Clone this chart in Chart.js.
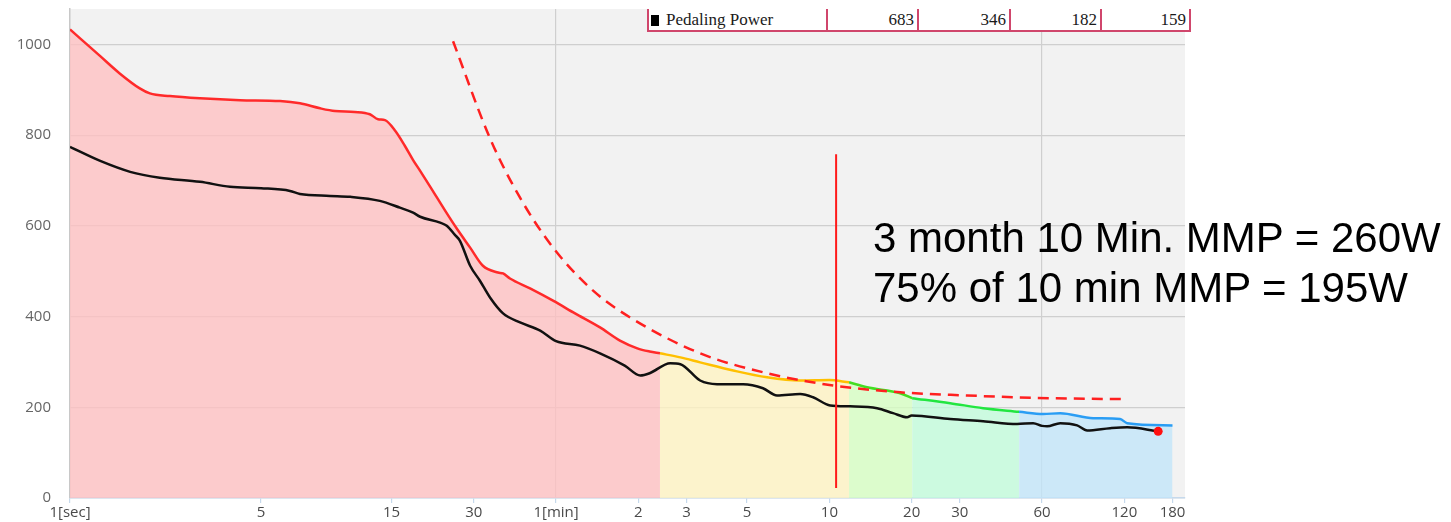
<!DOCTYPE html>
<html>
<head>
<meta charset="utf-8">
<script src="https://cdn.jsdelivr.net/npm/chart.js"></script>
<style>
  body { margin: 0; background: #fff; }
  #wrap { position: relative; width: 1451px; height: 522px; }
  #mmpTable {
    position: absolute; left: 647px; top: 9px; height: 21px;
    border: 2px solid #d0466c; border-top: none; background: #fff;
    display: flex; font: 17px "Liberation Serif", serif; color: #1a1a1a;
  }
  #mmpTable div { box-sizing: border-box; line-height: 21px; }
  #mmpTable .name { width: 179px; padding-left: 2px; border-right: 2px solid #d0466c; }
  #mmpTable .num { text-align: right; padding-right: 3px; border-right: 2px solid #d0466c; }
  #mmpTable .num:last-child { border-right: none; }
  #mmpTable .sq { display: inline-block; width: 8px; height: 11px; background: #000; margin-right: 7px; vertical-align: -1px; }
  #note {
    position: absolute; left: 873px; top: 213px;
    font: 42px "Liberation Sans", Arial, sans-serif; line-height: 50px; color: #000;
    white-space: nowrap;
  }
</style>
</head>
<body>
<div id="wrap">
  <canvas id="mmpChart" width="1451" height="522"></canvas>
  <div id="mmpTable"></div>
  <div id="note"></div>
</div>
<script>
// duration in seconds, power in watts

// best power curve (upper envelope)
const envSec = [1, 1.29, 1.52, 1.8, 1.96, 2.32, 2.99, 4.19, 5.87, 6.94, 8.22, 9.32, 11, 12.5, 13.4, 14.2,
  15.5, 16.8, 18, 19.1, 20.8, 23.6, 26, 29.1, 32.4, 36.8, 38.4, 40.7, 48.2, 58.5, 70.4, 86.9, 102.8, 119, 132,
  144, 171, 202, 267, 355, 469, 600, 708, 824, 1089, 1205, 1660, 2191, 2966, 3631, 4194, 5534, 6950, 7372, 10800];
const envW = [1033, 974, 936, 903, 892, 886, 881, 877, 875, 870, 859, 853, 851, 846, 835, 833,
  809, 776, 745, 721, 686, 633, 594, 552, 512, 497, 495, 484, 462, 435, 407, 376, 347, 330, 323,
  319, 310, 299, 281, 266, 259, 260, 255, 244, 231, 220, 209, 198, 190, 185, 187, 176, 174, 165, 160];

// pedaling power curve
const blackSec = [1, 1.29, 1.66, 2.13, 2.99, 3.85, 5, 6.38, 6.94, 8.94, 10.6, 13.6, 16.1, 18, 19.1, 22.6,
  23.9, 25.6, 26.7, 29.1, 31.6, 34.4, 38.4, 44.3, 52.5, 60, 73.4, 86.9, 107, 122, 132, 157, 171, 202, 233,
  290, 343, 386, 469, 523, 604, 714, 897, 1026, 1155, 1200, 1660, 2191, 2917, 3339, 3600, 3757, 4194, 4837,
  5262, 6388, 7372, 9572];
const blackW = [774, 743, 719, 706, 697, 686, 683, 677, 670, 666, 664, 655, 640, 629, 620, 607,
  600, 580, 567, 512, 479, 442, 407, 387, 369, 346, 336, 319, 292, 270, 275, 297, 295, 259, 251,
  251, 242, 226, 229, 222, 204, 202, 198, 187, 178, 182, 174, 169, 163, 165, 159, 158, 165, 160,
  149, 154, 156, 147];

// dashed model curve
const cpSec = [25.2, 34.4, 44.3, 58.5, 82, 112, 202, 355, 619, 1089, 1915, 3853, 7372];
const cpW = [1007, 793, 662, 552, 457, 398, 319, 275, 248, 233, 226, 220, 218];

// vertical marker
const markSec = [635, 635];
const markW = [22, 758];

// zones
const zoneEdges = [1, 144, 708, 1205, 2966, 10800];
const zoneLine = ['#ff2a2a', '#ffc000', '#44dd22', '#22e640', '#2a9df4'];
const zoneFill = ['rgba(255,191,192,0.77)', 'rgba(255,243,193,0.77)', 'rgba(213,255,193,0.77)',
  'rgba(193,252,219,0.77)', 'rgba(193,229,250,0.77)'];

// axis ticks
const xTicks = [1, 5, 15, 30, 60, 120, 180, 300, 600, 1200, 1800, 3600, 7200, 10800];
const xLabels = ['1[sec]', '5', '15', '30', '1[min]', '2', '3', '5', '10', '20', '30', '60', '120', '180'];
const xGridAt = [60, 3600];
const yTicks = [0, 200, 400, 600, 800, 1000];

// table columns
const tableSec = [5, 60, 1200, 3600];

const pts = (xs, ys) => xs.map((x, i) => ({ x: x, y: ys[i] }));

function zonePoints(i) {
  return pts(envSec, envW).filter(p => p.x >= zoneEdges[i] && p.x <= zoneEdges[i + 1]);
}

const lineBase = { showLine: true, pointRadius: 0, borderWidth: 2.5, cubicInterpolationMode: 'monotone' };

const datasets = [
  { ...lineBase, data: pts(markSec, markW), borderColor: '#ff1a1a', borderWidth: 2 },
  { data: [{ x: blackSec[blackSec.length - 1], y: blackW[blackW.length - 1] }], pointRadius: 4.5,
    backgroundColor: '#ff1010', borderWidth: 0 },
  { ...lineBase, data: pts(blackSec, blackW), borderColor: '#111' },
  { ...lineBase, data: pts(cpSec, cpW), borderColor: '#ff2020', borderDash: [11, 7] }
];
for (let i = 0; i < zoneLine.length; i++) {
  datasets.push({ ...lineBase, data: zonePoints(i), borderColor: zoneLine[i], backgroundColor: zoneFill[i], fill: 'origin' });
}

// plot area background
const plotBg = {
  id: 'plotBg',
  beforeDraw(chart) {
    const a = chart.chartArea;
    chart.ctx.save();
    chart.ctx.fillStyle = '#f2f2f2';
    chart.ctx.fillRect(a.left, a.top, a.right - a.left, a.bottom - a.top);
    chart.ctx.restore();
  }
};

const tickFont = { family: '"Open Sans", sans-serif', size: 15 };

const config = {
  type: 'scatter',
  data: { datasets },
  options: {
    responsive: false,
    animation: false,
    layout: { padding: { top: 9, right: 266, left: 0, bottom: 0 } },
    plugins: {
      legend: { display: false },
      tooltip: { enabled: false },
      filler: { drawTime: 'beforeDatasetsDraw' }
    },
    scales: {
      x: {
        type: 'logarithmic',
        min: 1,
        max: 12000,
        afterBuildTicks: axis => { axis.ticks = xTicks.map(v => ({ value: v })); },
        afterFit: s => { s.height = 24; },
        ticks: {
          autoSkip: false, maxRotation: 0, padding: 1, color: '#4a4a4a', font: tickFont,
          callback: (v, i) => xLabels[i]
        },
        grid: {
          color: c => (c.tick && xGridAt.includes(c.tick.value)) ? '#cfcfcf' : 'rgba(0,0,0,0)',
          tickColor: '#c6d9ec', tickLength: 5, lineWidth: 1.2
        },
        border: { color: '#c6d9ec', width: 1.5 }
      },
      y: {
        min: 0,
        max: 1078,
        afterBuildTicks: axis => { axis.ticks = yTicks.map(v => ({ value: v })); },
        afterFit: s => { s.width = 70; },
        ticks: { padding: 0, color: '#666', font: tickFont, callback: v => String(v) },
        grid: { color: '#cfcfcf', tickColor: 'rgba(0,0,0,0)', tickLength: 19, lineWidth: 1.2 },
        border: { color: '#c8c8c8', width: 1.5 }
      }
    }
  },
  plugins: [plotBg]
};

const myChart = new Chart(document.getElementById('mmpChart'), config);

// values table above the plot
const table = document.getElementById('mmpTable');
let html = '<div class="name"><span class="sq"></span>Pedaling Power</div>';
const widths = [91, 92, 91, 87];
tableSec.forEach((s, i) => {
  html += '<div class="num" style="width:' + widths[i] + 'px">' + blackW[blackSec.indexOf(s)] + '</div>';
});
table.innerHTML = html;

// 10 minute note
const mmp10 = envW[envSec.indexOf(600)];
document.getElementById('note').innerHTML =
  '3 month 10 Min. MMP = ' + mmp10 + 'W<br>75% of 10 min MMP = ' + Math.round(mmp10 * 0.75) + 'W';
</script>
</body>
</html>
